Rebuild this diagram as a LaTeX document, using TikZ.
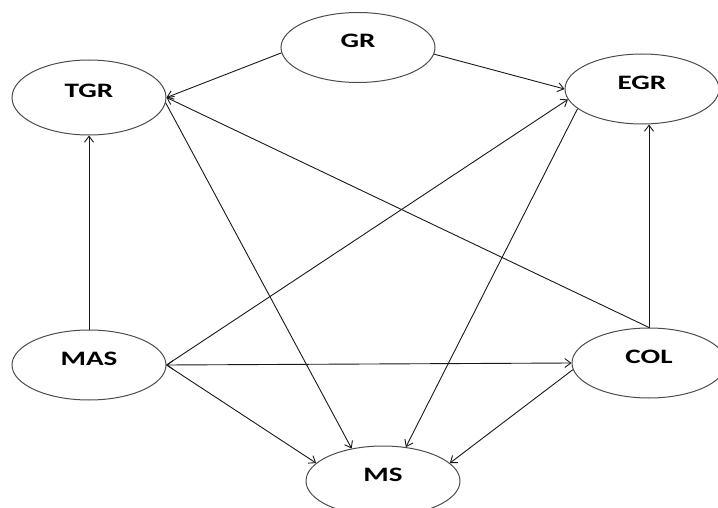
\documentclass[tikz,border=0pt]{standalone}
\usepackage{fontspec}
\usepackage{graphicx}
\usetikzlibrary{shapes.geometric,arrows.meta}
\setmainfont{Carlito}
\tikzset{
  state/.style={ellipse,draw=black!70,line width=1pt,minimum width=154pt,minimum height=70pt,
    text height=8pt,text depth=7pt,font=\fontsize{20.5}{24}\selectfont\bfseries},
  link/.style={draw=black!90,line width=0.9pt,-{Straight Barb[length=6pt,width=9pt]}},
  link2/.style={link,{Straight Barb[length=6pt,width=9pt]}-{Straight Barb[length=6pt,width=9pt]}}
}
\newcommand{\wlabel}[1]{\scalebox{1.42}[1]{#1}}
\begin{document}
\begin{tikzpicture}[x=1pt,y=1pt]
\tikzstyle{every node}+=[inner sep=0pt]
\useasboundingbox (0,0) rectangle (718,-508);
\node [state] (gr) at (358,-47.5) {\wlabel{GR}};
\node [state,minimum height=75pt] (tgr) at (89,-97.5) {\wlabel{TGR}};
\node [state] (egr) at (642,-89) {\wlabel{EGR}};
\node [state] (mas) at (89,-365) {\wlabel{MAS}};
\node [state] (col) at (649,-363) {\wlabel{COL}};
\node [state] (ms) at (383,-481) {\wlabel{MS}};
\draw [link] (gr.184) -- (tgr.east);
\draw [link] (gr.355) -- (egr.west);
\draw [link] (col.north) -- (tgr.east);
\draw [link] (col.north) -- (egr.south -| col.north);
\draw [link] (mas.north) -- (tgr.south);
\draw [link] (mas.east) -- (egr.188);
\draw [link2] (mas.east) -- (col.west);
\draw [link] (mas.east) -- (ms.165);
\draw [link] (tgr.356) -- (ms.134);
\draw [link] (egr.197) -- (ms.56);
\draw [link] (col.185) -- (ms.15);
\end{tikzpicture}
\end{document}
